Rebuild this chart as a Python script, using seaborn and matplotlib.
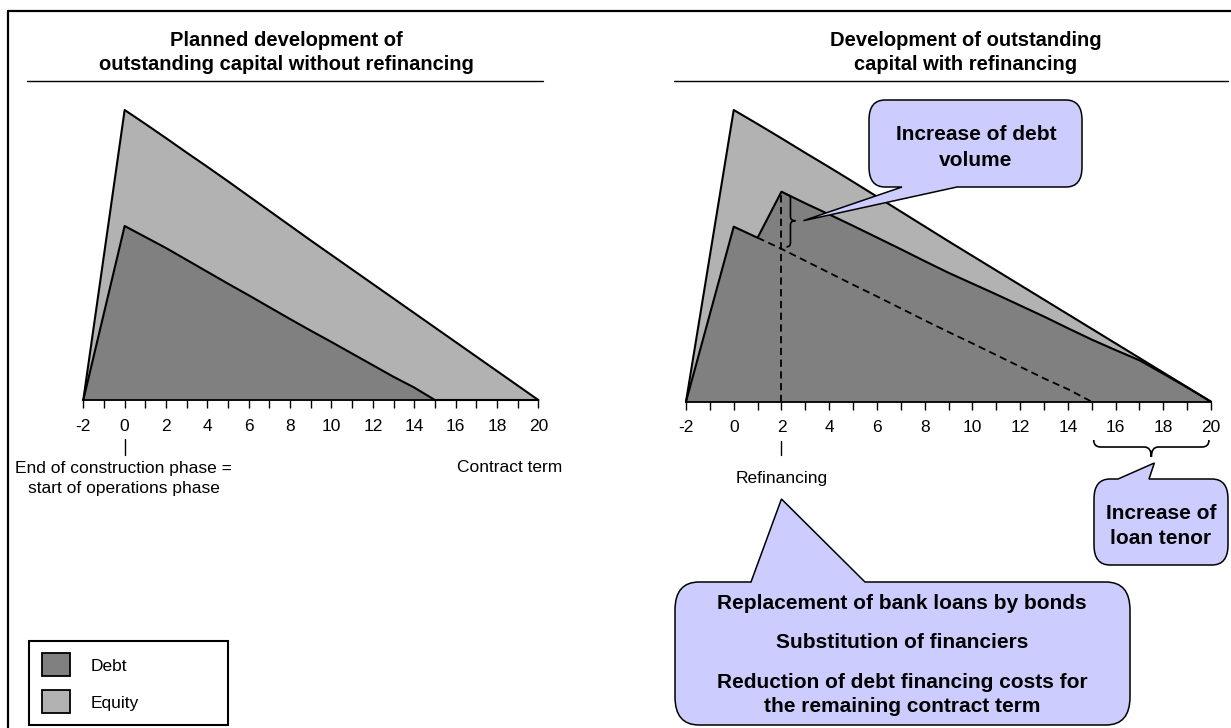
import matplotlib
matplotlib.use("Agg")
import matplotlib.pyplot as plt
from matplotlib.path import Path
from matplotlib.patches import PathPatch, Rectangle
import seaborn as sns

# Outstanding capital over the contract term (index, peak total = 100)
years = [-2, 0, 1, 2, 3, 4, 5, 6, 7, 8, 9, 10, 11, 12, 13, 14, 15, 16, 17, 18, 19, 20]
debt_plan = [0, 60, 56.2, 52.4, 48.3, 44.2, 40.1, 36.1, 32, 27.9, 23.9, 20, 16, 12, 8, 4.3, 0,
             0, 0, 0, 0, 0]
equity_plan = [0, 40, 39, 37.9, 37, 36.2, 35.3, 34.2, 33.2, 32.2, 31.1, 30, 29, 28, 27, 25.7, 25,
               20, 15, 10, 5, 0]
debt_refi = [0, 60, 56.2, 72, 68, 64.2, 60.3, 56.3, 52.3, 48.2, 44.2, 40.5, 36.8, 33, 29.2, 25.2,
             21.3, 17.7, 14.2, 9.6, 4.9, 0]
equity_refi = [0, 40, 39, 18.3, 17.3, 16.2, 15.1, 14, 12.9, 11.9, 10.8, 9.5, 8.2, 7, 5.8, 4.8,
               3.7, 2.3, 0.8, 0.4, 0.1, 0]
refi_year = 2
plan_end_year = 15
tick_values = list(range(-2, 21, 2))
legend_labels = ["Debt", "Equity"]

titles = [
    ["Planned development of", "outstanding capital without refinancing"],
    ["Development of outstanding", "capital with refinancing"],
]
callout_debt = ["Increase of debt", "volume"]
callout_tenor = ["Increase of", "loan tenor"]
callout_refi = ["Replacement of bank loans by bonds", "Substitution of financiers",
                "Reduction of debt financing costs for", "the remaining contract term"]

DARK = "#808080"
LIGHT = "#b2b2b2"
BUBBLE = "#ccccff"

sns.set_theme(style="white")
plt.rcParams["font.family"] = ["Liberation Sans", "DejaVu Sans"]
plt.rcParams["axes.unicode_minus"] = False

W, H = 1231, 728
fig = plt.figure(figsize=(W / 100, H / 100), dpi=100)
fig.patch.set_facecolor("white")


def box(x0, x1, ybase, ytop):
    return [x0 / W, (H - ybase) / H, (x1 - x0) / W, (ybase - ytop) / H]


axL = fig.add_axes(box(83.3, 538.3, 400, 110))
axR = fig.add_axes(box(686, 1211, 401.7, 110))
ov = fig.add_axes([0, 0, 1, 1], zorder=10)
ov.set_xlim(0, W)
ov.set_ylim(H, 0)
ov.axis("off")


def setup_axis(ax):
    ax.set_xlim(-2, 20)
    ax.set_ylim(0, 100)
    ax.set_xticks(tick_values)
    ax.set_xticks(list(range(-2, 21)), minor=True)
    ax.set_yticks([])
    for s in ["top", "right", "left"]:
        ax.spines[s].set_visible(False)
    ax.spines["bottom"].set_color("black")
    ax.spines["bottom"].set_linewidth(1.3)
    ax.tick_params(axis="x", which="both", bottom=True, direction="out",
                   length=6, width=1, color="black")
    ax.tick_params(axis="x", which="major", labelsize=12.5, pad=7.5, labelcolor="black")
    ax.patch.set_alpha(0)


def draw_stack(ax, debt, equity):
    total = [d + e for d, e in zip(debt, equity)]
    ax.fill_between(years, 0, total, facecolor=LIGHT, lw=0, zorder=1)
    ax.fill_between(years, 0, debt, facecolor=DARK, lw=0, zorder=2)
    sns.lineplot(x=years, y=total, ax=ax, color="black", linewidth=1.5,
                 legend=False, clip_on=False, zorder=3)
    sns.lineplot(x=years, y=debt, ax=ax, color="black", linewidth=1.5,
                 legend=False, clip_on=False, zorder=3)


for ax in (axL, axR):
    setup_axis(ax)
draw_stack(axL, debt_plan, equity_plan)
draw_stack(axR, debt_refi, equity_refi)

# original repayment path after refinancing, shown dashed
i_start = years.index(refi_year - 1)
i_end = years.index(plan_end_year)
i_refi = years.index(refi_year)
dash = (0, (4, 2.5))
axR.plot(years[i_start:i_end + 1], debt_plan[i_start:i_end + 1], color="black",
         lw=1.3, linestyle=dash, zorder=4)
axR.plot([refi_year, refi_year], [0, debt_refi[i_refi]], color="black",
         lw=1.3, linestyle=dash, zorder=4)
for ax in (axL, axR):
    ax.set_xlabel("")
    ax.set_ylabel("")


def to_px(ax, x, y):
    X, Y = ax.transData.transform((x, y))
    return X, H - Y


def fpx(pt):
    return pt * 100 / 72


def text_line(x, yc, s, size, bold=False):
    ov.text(x, yc + 0.36 * fpx(size), s, ha="center", va="baseline", fontsize=size,
            fontweight="bold" if bold else "normal", color="black", zorder=12)


def callout(x0, y0, x1, y1, rx, ry, side, base, tip):
    verts, codes = [], []

    def mv(p):
        verts.append(p); codes.append(Path.MOVETO)

    def ln(p):
        verts.append(p); codes.append(Path.LINETO)

    def cv(c, p):
        verts.extend([c, p]); codes.extend([Path.CURVE3, Path.CURVE3])

    mv((x0 + rx, y0))
    if side == "top":
        ln((base[0], y0)); ln(tip); ln((base[1], y0))
    ln((x1 - rx, y0)); cv((x1, y0), (x1, y0 + ry))
    ln((x1, y1 - ry)); cv((x1, y1), (x1 - rx, y1))
    if side == "bottom":
        ln((base[1], y1)); ln(tip); ln((base[0], y1))
    ln((x0 + rx, y1)); cv((x0, y1), (x0, y1 - ry))
    ln((x0, y0 + ry)); cv((x0, y0), (x0 + rx, y0))
    verts.append((x0 + rx, y0)); codes.append(Path.CLOSEPOLY)
    ov.add_patch(PathPatch(Path(verts, codes), facecolor=BUBBLE, edgecolor="black",
                           lw=1.1, zorder=11))


def vbrace(x, ya, yb, c, w):
    ym = (ya + yb) / 2
    verts = [(x - c, ya), (x, ya), (x, ya + c), (x, ym - c), (x, ym), (x + w, ym),
             (x, ym), (x, ym + c), (x, yb - c), (x, yb), (x - c, yb)]
    codes = [Path.MOVETO, Path.CURVE3, Path.CURVE3, Path.LINETO, Path.CURVE3, Path.CURVE3,
             Path.CURVE3, Path.CURVE3, Path.LINETO, Path.CURVE3, Path.CURVE3]
    ov.add_patch(PathPatch(Path(verts, codes), facecolor="none", edgecolor="black",
                           lw=1.2, zorder=11))


def hbrace(xa, xb, y, c, w):
    xm = (xa + xb) / 2
    verts = [(xa, y - c), (xa, y), (xa + c, y), (xm - c, y), (xm, y), (xm, y + w),
             (xm, y), (xm + c, y), (xb - c, y), (xb, y), (xb, y - c)]
    codes = [Path.MOVETO, Path.CURVE3, Path.CURVE3, Path.LINETO, Path.CURVE3, Path.CURVE3,
             Path.CURVE3, Path.CURVE3, Path.LINETO, Path.CURVE3, Path.CURVE3]
    ov.add_patch(PathPatch(Path(verts, codes), facecolor="none", edgecolor="black",
                           lw=1.2, zorder=11))


# outer frame
ov.plot([8, 8], [11, H + 5], color="black", lw=1.6, clip_on=False)
ov.plot([8, W + 5], [11, 11], color="black", lw=1.6, clip_on=False)

# panel titles with rules
for (lines, cx, x0, x1) in ((titles[0], 286, 27, 543), (titles[1], 966, 674, 1228)):
    text_line(cx, 39, lines[0], 14.5, bold=True)
    text_line(cx, 63, lines[1], 14.5, bold=True)
    ov.plot([x0, x1], [81, 81], color="black", lw=1.0)

# left panel markers
x0px, _ = to_px(axL, 0, 0)
ov.plot([x0px, x0px], [439, 455], color="black", lw=1.0)
text_line(x0px - 1, 466.5, "End of construction phase =", 12.5)
text_line(x0px - 1, 487, "start of operations phase", 12.5)
text_line(510, 466, "Contract term", 12.5)

# right panel markers
xr, _ = to_px(axR, refi_year, 0)
ov.plot([xr, xr], [441, 455], color="black", lw=1.0)
text_line(xr, 477, "Refinancing", 12.5)

# brace for higher debt volume at refinancing
_, y_new = to_px(axR, refi_year, debt_refi[i_refi])
_, y_old = to_px(axR, refi_year, debt_plan[i_refi])
bx = xr + 9
vbrace(bx, y_new + 3, y_old - 2, 4, 5)
callout(869, 100, 1082, 187, 16, 20, "bottom", (902, 957), (bx + 13, y_new + 29))
text_line(976, 133, callout_debt[0], 15, bold=True)
text_line(976, 159, callout_debt[1], 15, bold=True)

# brace for longer tenor
xa, _ = to_px(axR, plan_end_year, 0)
xb, _ = to_px(axR, 20, 0)
hbrace(xa + 2, xb - 2, 447, 7, 10)
callout(1094, 479, 1228, 565, 16, 20, "top", (1118, 1149), ((xa + xb) / 2 + 3, 463))
text_line(1161, 511.5, callout_tenor[0], 15, bold=True)
text_line(1161, 536.5, callout_tenor[1], 15, bold=True)

# refinancing effects
callout(675, 582, 1130, 725, 24, 28, "top", (751, 865), (xr, 499))
for yc, s in zip([601.5, 640.5, 681, 705], callout_refi):
    text_line(902, yc, s, 15, bold=True)

# legend
ov.add_patch(Rectangle((28.6, 640.7), 198.9, 84.3, facecolor="white", edgecolor="black",
                       lw=1.5, zorder=11))
for (yt, col, lab) in ((652.7, DARK, legend_labels[0]), (689.7, LIGHT, legend_labels[1])):
    ov.add_patch(Rectangle((42, yt), 28, 23.3, facecolor=col, edgecolor="black",
                           lw=1.3, zorder=12))
    ov.text(91, yt + 11.7 + 0.36 * fpx(12.5), lab, ha="left", va="baseline",
            fontsize=12.5, color="black", zorder=12)

fig.savefig("out.png", dpi=100)
